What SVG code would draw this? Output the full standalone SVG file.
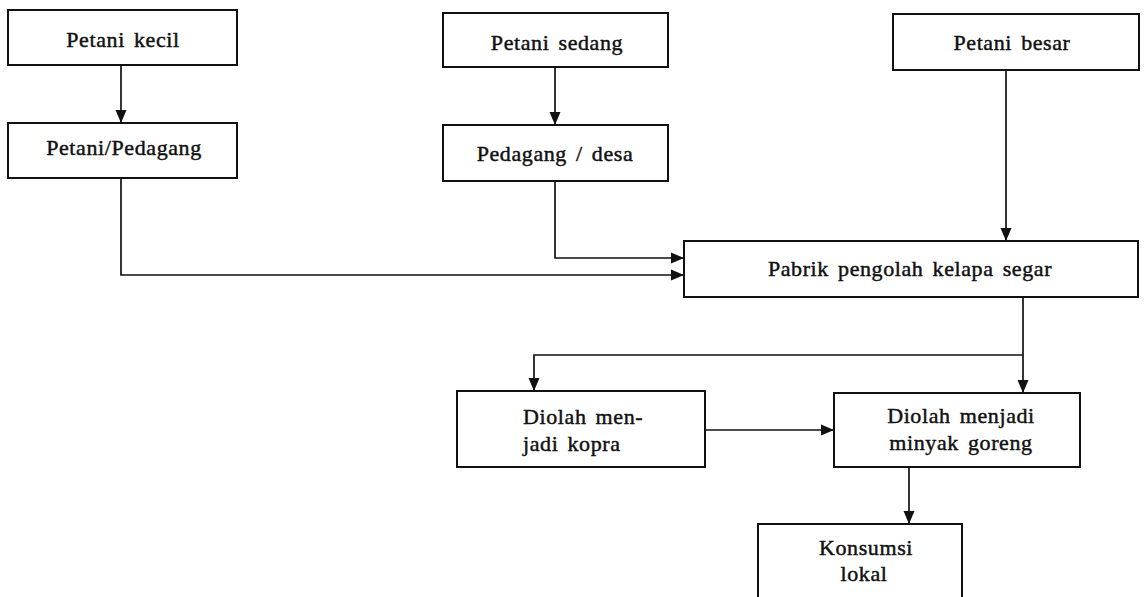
<svg xmlns="http://www.w3.org/2000/svg" width="1146" height="597" viewBox="0 0 1146 597">
  <style>
    .box { fill: #ffffff; stroke: #111111; stroke-width: 2; }
    .lbl { font-family: "Liberation Serif", "Times New Roman", serif; font-size: 22px; fill: #111111; stroke: #111111; stroke-width: 0.45px; letter-spacing: 0.6px; word-spacing: 3px; }
    .mid { text-anchor: middle; }
    .conn { fill: none; stroke: #111111; stroke-width: 1.7; }
  </style>
  <defs>
    <marker id="arrow" markerUnits="userSpaceOnUse" markerWidth="14" markerHeight="14" viewBox="0 0 14 14" refX="13" refY="7" orient="auto">
      <path d="M0,1.5 L13,7 L0,12.5 Z" fill="#111111"/>
    </marker>
  </defs>
  <rect width="1146" height="597" fill="#ffffff"/>

  <g id="connectors">
    <path class="conn" d="M121 65 V123" marker-end="url(#arrow)"/>
    <path class="conn" d="M555 67 V125" marker-end="url(#arrow)"/>
    <path class="conn" d="M121 178 V275 H684" marker-end="url(#arrow)"/>
    <path class="conn" d="M555 181 V258 H684" marker-end="url(#arrow)"/>
    <path class="conn" d="M1006 70 V241" marker-end="url(#arrow)"/>
    <path class="conn" d="M1023 297 V393" marker-end="url(#arrow)"/>
    <path class="conn" d="M1023 355 H534 V391" marker-end="url(#arrow)"/>
    <path class="conn" d="M705 430 H834" marker-end="url(#arrow)"/>
    <path class="conn" d="M909 467 V524" marker-end="url(#arrow)"/>
  </g>

  <g id="petani-kecil">
    <rect class="box" x="8" y="10" width="229" height="55"/>
    <text class="lbl mid" x="123" y="47">Petani kecil</text>
  </g>
  <g id="petani-pedagang">
    <rect class="box" x="8" y="123" width="229" height="55"/>
    <text class="lbl mid" x="124" y="155">Petani/Pedagang</text>
  </g>
  <g id="petani-sedang">
    <rect class="box" x="443" y="13" width="225" height="54"/>
    <text class="lbl mid" x="557" y="50">Petani sedang</text>
  </g>
  <g id="pedagang-desa">
    <rect class="box" x="443" y="125" width="225" height="56"/>
    <text class="lbl mid" x="555" y="161">Pedagang / desa</text>
  </g>
  <g id="petani-besar">
    <rect class="box" x="893" y="14" width="246" height="56"/>
    <text class="lbl mid" x="1012" y="50">Petani besar</text>
  </g>
  <g id="pabrik">
    <rect class="box" x="684" y="241" width="454" height="56"/>
    <text class="lbl mid" x="910" y="276">Pabrik pengolah kelapa segar</text>
  </g>
  <g id="kopra">
    <rect class="box" x="457" y="391" width="248" height="76"/>
    <text class="lbl" x="523" y="424">Diolah men-</text>
    <text class="lbl" x="523" y="451">jadi kopra</text>
  </g>
  <g id="minyak-goreng">
    <rect class="box" x="834" y="393" width="246" height="74"/>
    <text class="lbl mid" x="961" y="423">Diolah menjadi</text>
    <text class="lbl mid" x="961" y="450">minyak goreng</text>
  </g>
  <g id="konsumsi">
    <rect class="box" x="758" y="524" width="204" height="90"/>
    <text class="lbl mid" x="866" y="555">Konsumsi</text>
    <text class="lbl mid" x="864" y="581">lokal</text>
  </g>
</svg>
